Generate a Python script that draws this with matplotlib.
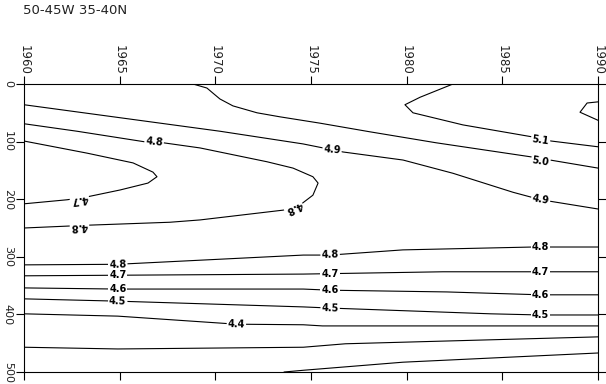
import matplotlib
matplotlib.use("Agg")
import matplotlib.pyplot as plt

# contour lines: (year, depth in m)
c52_year = [1990.0, 1989.43, 1989.06, 1990.0]
c52_depth = [31, 33, 49, 63]

c51_year = [1982.42, 1980.70, 1979.91, 1980.33, 1982.94, 1986.60, 1987.55, 1990.0]
c51_depth = [0, 23, 36, 50, 71, 92, 99, 109]

c50_year = [1968.83, 1969.56, 1969.88, 1970.24, 1970.92, 1972.18, 1973.38, 1975.47,
            1978.08, 1981.53, 1986.60, 1990.0]
c50_depth = [0, 7, 16, 26, 38, 50, 57, 68, 83, 102, 127, 146]

c49_year = [1960.0, 1970.24, 1974.58, 1975.63, 1976.67, 1979.81, 1982.42, 1985.56,
            1987.02, 1990.0]
c49_depth = [36, 82, 104, 111, 118, 132, 155, 188, 201, 217]

c48_year = [1960.0, 1962.77, 1966.43, 1967.27, 1969.20, 1972.70, 1974.06, 1975.10,
            1975.37, 1975.10, 1974.43, 1973.54, 1969.20, 1967.63, 1963.45, 1960.0]
c48_depth = [69, 82, 101, 102, 111, 135, 146, 161, 172, 193, 210, 219, 236, 240, 245, 250]

c47_year = [1960.0, 1963.29, 1965.70, 1966.74, 1966.95, 1966.48, 1965.02, 1963.29,
            1962.25, 1960.0]
c47_depth = [99, 120, 137, 153, 161, 172, 184, 196, 201, 208]

c48b_year = [1960.0, 1964.9, 1974.6, 1976.0, 1979.8, 1986.6, 1990.0]
c48b_depth = [314, 313, 297, 297, 288, 283, 283]

c47b_year = [1960.0, 1964.9, 1974.6, 1981.9, 1990.0]
c47b_depth = [333, 332, 330, 326, 326]

c46_year = [1960.0, 1964.9, 1974.6, 1976.0, 1982.1, 1987.0, 1990.0]
c46_depth = [354, 356, 356, 358, 361, 366, 366]

c45_year = [1960.0, 1964.9, 1974.6, 1976.0, 1984.4, 1987.0, 1990.0]
c45_depth = [373, 377, 387, 389, 399, 401, 401]

c44_year = [1960.0, 1964.9, 1971.1, 1974.6, 1975.6, 1990.0]
c44_depth = [399, 403, 417, 418, 420, 420]

c43_year = [1960.0, 1964.9, 1974.6, 1976.8, 1990.0]
c43_depth = [457, 460, 457, 451, 439]

c42_year = [1973.6, 1974.6, 1979.8, 1990.0]
c42_depth = [500, 497, 483, 467]

lines = [(c52_year, c52_depth), (c51_year, c51_depth), (c50_year, c50_depth),
         (c49_year, c49_depth), (c48_year, c48_depth), (c47_year, c47_depth),
         (c48b_year, c48b_depth), (c47b_year, c47b_depth), (c46_year, c46_depth),
         (c45_year, c45_depth), (c44_year, c44_depth), (c43_year, c43_depth),
         (c42_year, c42_depth)]

# contour labels: year, depth, text, angle
label_year = [1966.8, 1976.1, 1987.0, 1987.0, 1987.0, 1962.9, 1962.9, 1974.1,
              1964.9, 1976.0, 1987.0, 1964.9, 1976.0, 1987.0,
              1964.9, 1976.0, 1987.0, 1964.9, 1976.0, 1987.0, 1971.1]
label_depth = [101, 115, 97, 135, 201, 200, 247, 215,
               313, 297, 283, 332, 330, 326,
               356, 358, 366, 377, 389, 401, 417]
label_text = ["4.8", "4.9", "5.1", "5.0", "4.9", "4.7", "4.8", "4.8",
              "4.8", "4.8", "4.8", "4.7", "4.7", "4.7",
              "4.6", "4.6", "4.6", "4.5", "4.5", "4.5", "4.4"]
label_angle = [-6, -5, -8, -9, -10, 188, 182, 205,
               2, 2, 0, 0, 0, 0,
               0, 0, 0, -2, -2, 0, -2]

years = [1960, 1965, 1970, 1975, 1980, 1985, 1990]
depths = [0, 100, 200, 300, 400, 500]

fig = plt.figure(figsize=(6.06, 3.84), dpi=100)
ax = fig.add_axes([24/606, 12/384, 574/606, 288/384])

for x, y in lines:
    ax.plot(x, y, color="black", lw=0.8)

for x, y, t, a in zip(label_year, label_depth, label_text, label_angle):
    ax.text(x, y, t, rotation=a, ha="center", va="center", fontsize=7,
            fontweight="bold", rotation_mode="anchor",
            bbox=dict(facecolor="white", edgecolor="none", pad=0.8))

ax.set_xlim(1960, 1990)
ax.set_ylim(500, 0)
ax.set_xticks(years)
ax.set_yticks(depths)
ax.tick_params(axis="x", top=True, bottom=True, labeltop=True, labelbottom=False,
               direction="out", length=6, width=0.8, pad=0.5, labelrotation=270,
               labelsize=8.5, labelcolor="#222222")
ax.tick_params(axis="y", left=True, right=True, labelleft=True, labelright=False,
               direction="out", length=5.5, width=0.8, pad=2.5, labelrotation=270,
               labelsize=8, labelcolor="#222222")
for lab in ax.get_yticklabels():
    lab.set_va("center")
for s in ax.spines.values():
    s.set_linewidth(0.8)

fig.text(23/606, 1 - 4/384, "50-45W 35-40N", fontsize=9.5, color="#222222",
         ha="left", va="top")

fig.savefig("out.png", dpi=100)
